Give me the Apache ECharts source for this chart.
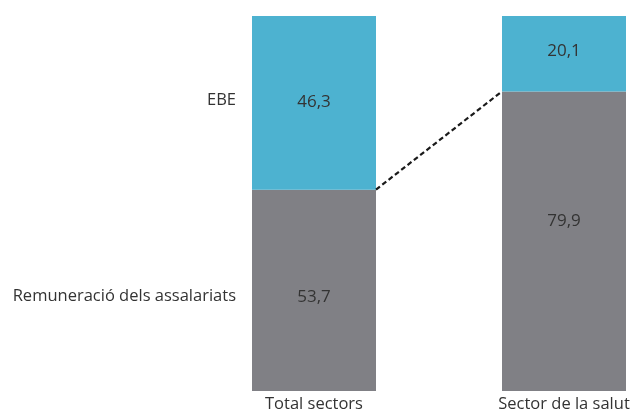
<!DOCTYPE html>
<html>
<head>
<meta charset="utf-8">
<script src="https://cdn.jsdelivr.net/npm/echarts@6/dist/echarts.min.js"></script>
<style>
html,body{margin:0;padding:0;background:#fff;}
#c{width:637px;height:416px;}
</style>
</head>
<body>
<div id="c"></div>
<script>
const categories = ['Total sectors', 'Sector de la salut'];
const seriesNames = ['Remuneració dels assalariats', 'EBE'];
const remuneracio = [53.7, 79.9];
const ebe = [46.3, 20.1];

const FONT = '"Open Sans", "Noto Sans", sans-serif';
const FS = 16.5;
const FS_VAL = 17;
const BAR_W = 124;
const TEXT = '#333333';
const fmt = v => String(v).replace('.', ',');

const chart = echarts.init(document.getElementById('c'));

// Dashed connector between the top edges of the two grey segments
function renderConnector(params, api) {
  const a = api.coord([0, remuneracio[0]]);
  const b = api.coord([1, remuneracio[1]]);
  return {
    type: 'line',
    shape: { x1: a[0] + BAR_W / 2, y1: a[1], x2: b[0] - BAR_W / 2, y2: b[1] },
    style: { stroke: '#1a1a1a', lineWidth: 2.2, lineDash: [5, 3] }
  };
}

// Segment names written to the left of the first bar
function renderNames(params, api) {
  const p1 = api.coord([0, remuneracio[0] / 2]);
  const p2 = api.coord([0, remuneracio[0] + ebe[0] / 2]);
  const x = p1[0] - BAR_W / 2 - 16;
  return {
    type: 'group',
    children: [
      { type: 'text', x: x, y: p1[1] + 6, style: { text: seriesNames[0], align: 'right', verticalAlign: 'middle', fill: TEXT, font: FS + 'px ' + FONT } },
      { type: 'text', x: x, y: p2[1] - 3, style: { text: seriesNames[1], align: 'right', verticalAlign: 'middle', fill: TEXT, font: FS + 'px ' + FONT } }
    ]
  };
}

chart.setOption({
  animation: false,
  grid: { left: 189, right: -52, top: 16, bottom: 25, outerBoundsMode: 'none', containLabel: false },
  xAxis: {
    type: 'category',
    data: categories,
    axisLine: { show: false },
    axisTick: { show: false },
    axisLabel: { color: TEXT, fontFamily: FONT, fontSize: FS, margin: 5 }
  },
  yAxis: { type: 'value', min: 0, max: 100, show: false, splitLine: { show: false } },
  series: [
    {
      name: seriesNames[0],
      type: 'bar',
      stack: 'total',
      barWidth: BAR_W,
      data: remuneracio.map((v, i) => ({
        value: v,
        label: { offset: [0, i === 0 ? 7 : -20] }
      })),
      itemStyle: { color: '#808085' },
      label: { show: true, position: 'inside', color: TEXT, fontFamily: FONT, fontSize: FS_VAL, formatter: p => fmt(p.value) }
    },
    {
      name: seriesNames[1],
      type: 'bar',
      stack: 'total',
      barWidth: BAR_W,
      data: ebe.map((v, i) => ({ value: v, label: { offset: [0, i === 0 ? -1 : -3] } })),
      itemStyle: { color: '#4DB2D0' },
      label: { show: true, position: 'inside', color: TEXT, fontFamily: FONT, fontSize: FS_VAL, formatter: p => fmt(p.value) }
    },
    {
      type: 'custom',
      renderItem: renderConnector,
      data: [0],
      silent: true,
      z: 5
    },
    {
      type: 'custom',
      renderItem: renderNames,
      data: [0],
      silent: true,
      clip: false
    }
  ]
});
</script>
</body>
</html>
